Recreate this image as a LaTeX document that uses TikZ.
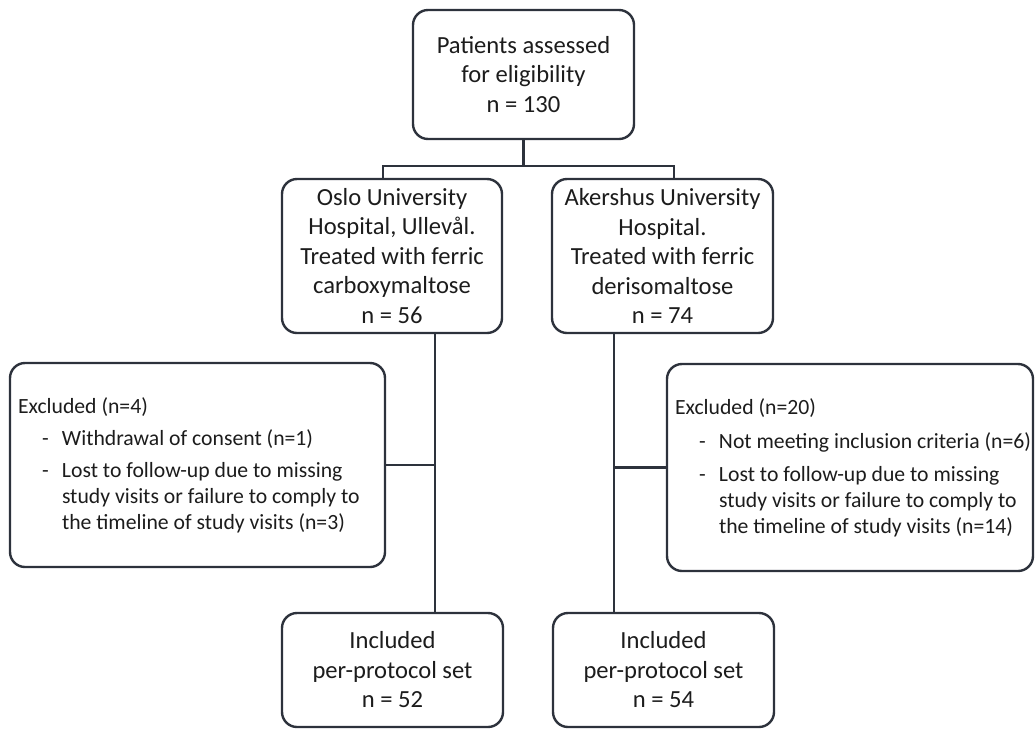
\documentclass[tikz,border=0pt]{standalone}
\usepackage{fontspec}
\setmainfont{Carlito}
\usepackage{tikz}
\definecolor{rahmen}{RGB}{45,50,60}
\definecolor{schrift}{RGB}{28,28,28}
%Spiegelstrich und Einzug in den Ausschluss-Kästen
\newcommand{\strich}[1]{\mbox{\hspace*{24pt}\makebox[20pt][l]{-}#1}}
\newcommand{\einzug}[1]{\mbox{\hspace*{44pt}#1}}
\newcommand{\ausliste}[2]{\begin{minipage}{#1}\raggedright #2\end{minipage}}

\begin{document}
\begin{tikzpicture}
				[
				x=1pt, y=-1pt, font=\fontsize{24.6}{29.5}\selectfont, text=schrift,
				%Voreinstellung für Kästen und Linien
				kasten/.style={draw=rahmen, line width=2.4pt, rounded corners=15pt, align=center, inner sep=0pt},
				ausschluss/.style={draw=rahmen, line width=2.4pt, rounded corners=15pt, inner xsep=8pt, inner ysep=0pt, font=\fontsize{21.7}{26}\selectfont},
				linie/.style={draw=rahmen, line width=2.4pt}
				]
				\useasboundingbox (0,0) rectangle (1035,729);
				%Kästen
				\node[kasten, minimum width=221pt, minimum height=129pt] (pat) at (523.5,74.5) {Patients assessed\\for eligibility\\n = 130};
				\node[kasten, minimum width=220pt, minimum height=154pt] (oslo) at (392,256) {Oslo University\\Hospital, Ullevål.\\Treated with ferric\\carboxymaltose\\n = 56};
				\node[kasten, minimum width=221pt, minimum height=154pt] (akh) at (662.5,256) {Akershus University\\Hospital.\\Treated with ferric\\derisomaltose\\n = 74};
				\node[ausschluss, minimum height=204pt] (exL) at (197.5,465) {\ausliste{359pt}{Excluded (n=4)\\[6pt]
					\strich{Withdrawal of consent (n=1)}\\[6pt]
					\strich{Lost to follow-up due to missing}\\
					\einzug{study visits or failure to comply to}\\
					\einzug{the timeline of study visits (n=3)}}};
				\node[ausschluss, minimum height=207pt] (exR) at (850,467.5) {\ausliste{350pt}{Excluded (n=20)\\[8pt]
					\strich{Not meeting inclusion criteria (n=6)}\\[7pt]
					\strich{Lost to follow-up due to missing}\\
					\einzug{study visits or failure to comply to}\\
					\einzug{the timeline of study visits (n=14)}}};
				\node[kasten, minimum width=221pt, minimum height=114pt] (inkL) at (392.5,670) {Included\\per-protocol set\\n = 52};
				\node[kasten, minimum width=221pt, minimum height=114pt] (inkR) at (663.5,670) {Included\\per-protocol set\\n = 54};
				%Verbindungslinien
				\coordinate (gabel) at (523.5,166);
				\coordinate (gL) at (383,166);
				\coordinate (gR) at (674,166);
				\coordinate (sL) at (435,0);
				\coordinate (sR) at (614,0);
				\draw[linie] (pat.south) -- (gabel);
				\draw[linie] (oslo.north -| gL) -- (gL) -- (gR) -- (akh.north -| gR);
				\draw[linie] (oslo.south -| sL) -- (inkL.north -| sL);
				\draw[linie] (exL.east) -- (exL.east -| sL);
				\draw[linie] (akh.south -| sR) -- (inkR.north -| sR);
				\draw[linie] (exR.west) -- (exR.west -| sR);
			\end{tikzpicture}
\end{document}
